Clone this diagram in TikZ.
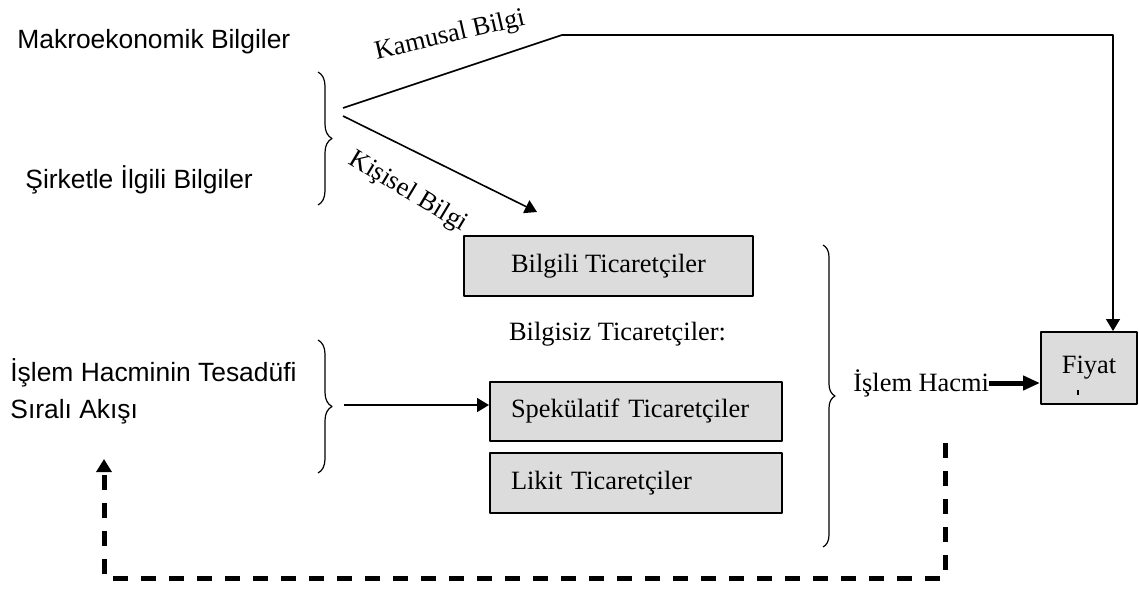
\documentclass[tikz,border=0pt]{standalone}
\usepackage{fontspec}
\setmainfont{Liberation Serif}
\setsansfont{Liberation Sans}
\usetikzlibrary{arrows.meta,decorations.pathreplacing,calc}
\definecolor{kutugri}{RGB}{220,220,220}
\tikzset{
	kutu/.style={draw, line width=1pt, fill=kutugri, inner sep=0pt, font=\fontsize{13.2}{16}\selectfont},
	duzyazi/.style={font=\sffamily\fontsize{13.2}{16}\selectfont, inner sep=0pt},
	serifyazi/.style={font=\fontsize{13.2}{16}\selectfont, inner sep=0pt},
	ok/.style={-{Triangle[length=6pt,width=7pt]}, line width=0.8pt},
	parantez/.style={decorate, decoration={brace, amplitude=#1}, line width=0.6pt},
	parantez/.default=7pt,
}
\begin{document}
\begin{tikzpicture}[x=0.5pt, y=-0.5pt, line join=round]
	\useasboundingbox (0,0) rectangle (1139,590);
	\node[duzyazi, anchor=west] (makro) at (17,42) {Makroekonomik Bilgiler};
	\node[duzyazi, anchor=west] (sirket) at (25,180) {Şirketle İlgili Bilgiler};
	\node[duzyazi, anchor=west] (tesadufi) at (10,373) {İşlem Hacminin Tesadüfi};
	\node[duzyazi, anchor=west] (akis) at (10,412) {Sıralı Akışı};
	\node[kutu, minimum width=144.5pt, minimum height=30pt] (bilgili) at (608.5,266) {Bilgili Ticaretçiler};
	\node[serifyazi] (bilgisiz) at (617.5,334) {Bilgisiz Ticaretçiler:};
	\node[kutu, anchor=north west, minimum height=29.5pt, inner xsep=10.5pt, text width=125pt, align=left] (spek) at (489,381) {Spekülatif Ticaretçiler};
	\node[kutu, anchor=north west, minimum height=30pt, inner xsep=10.5pt, text width=125pt, align=left] (likit) at (489,452) {Likit Ticaretçiler};
	\node[kutu, minimum width=48pt, minimum height=36pt] (fiyat) at (1089,368) {Fiyat};
	\node[serifyazi, anchor=west] (hacim) at (853,383) {İşlem Hacmi};
	\node[serifyazi, rotate=13] (kamlbl) at (450,36) {Kamusal Bilgi};
	\node[serifyazi, rotate=-31] (kislbl) at (408,192) {Kişisel Bilgi};
	\draw[parantez] (318,72) -- (318,205);
	\draw[parantez] (318,340) -- (318,473);
	\draw[parantez=6pt] (823,245) -- (823,547);
	\path
	(343,108) coordinate (kamusal)
	(562,35) coordinate (kirilma)
	(343,116) coordinate (kisisel)
	(537,212) coordinate (kisiselson)
	(344,405) coordinate (akisbas)
	(945,443) coordinate (geribas)
	(104,578) coordinate (gerikose)
	(104,459) coordinate (geriuc)
	;
	\draw[ok] (kamusal) -- (kirilma) -| ([xshift=12pt]fiyat.north);
	\draw[ok] (kisisel) -- (kisiselson);
	\draw[ok] (akisbas) -- (spek.west |- akisbas);
	\draw[-{Triangle[length=8.5pt,width=7pt]}, line width=2.5pt] (hacim.east) -- (hacim.east -| fiyat.west);
	\draw[line width=2.5pt, dash pattern=on 7.5pt off 6.5pt, -{Triangle[length=6.5pt,width=7.5pt]}] (geribas) |- (gerikose) -- (geriuc);
	\draw[line width=1.2pt] ($(fiyat.center)+(-11,22)$) -- ++(0,5);
\end{tikzpicture}
\end{document}
